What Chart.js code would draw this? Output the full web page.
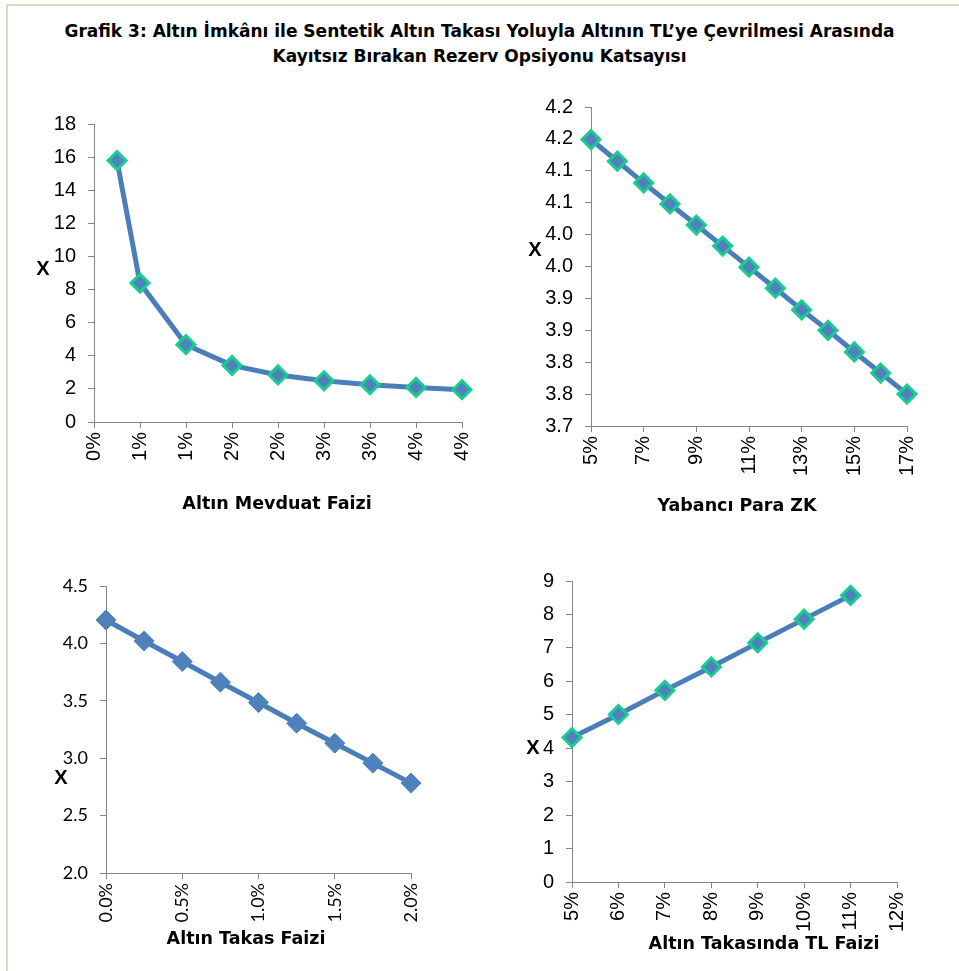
<!DOCTYPE html>
<html>
<head>
<meta charset="utf-8">
<script src="https://cdn.jsdelivr.net/npm/chart.js@4.4.0/dist/chart.umd.min.js"></script>
<style>
  body { margin: 0; background: #fff; }
  #page { position: relative; width: 959px; height: 971px; overflow: hidden; }
  #frame { position: absolute; left: 6px; top: 4px; width: 960px; height: 980px;
           border-left: 2px solid #ddd9c3; border-top: 2px solid #ddd9c3; }
  #title { position: absolute; left: 0; width: 959px; top: 19px; text-align: center;
           font: bold 17px "DejaVu Sans", sans-serif; line-height: 25px; color: #000; }
  .box { position: absolute; }
  .ylab { position: absolute; font: bold 20px "Liberation Sans", Arial, sans-serif;
          transform: translate(-50%, -50%); }
  .xlab { position: absolute; font: bold 17.5px "DejaVu Sans", sans-serif; white-space: nowrap;
          transform: translate(-50%, -50%); }
</style>
</head>
<body>
<div id="page">
  <div id="frame"></div>
  <div id="title">Grafik 3: Altın İmkânı ile Sentetik Altın Takası Yoluyla Altının TL’ye Çevrilmesi Arasında<br>Kayıtsız Bırakan Rezerv Opsiyonu Katsayısı</div>
  <div class="box" style="left:10px;top:98px;width:480px;height:413px"><canvas id="c1"></canvas></div>
  <div class="box" style="left:500px;top:81px;width:450px;height:432px"><canvas id="c2"></canvas></div>
  <div class="box" style="left:10px;top:560px;width:440px;height:386px"><canvas id="c3"></canvas></div>
  <div class="box" style="left:490px;top:555px;width:450px;height:396px"><canvas id="c4"></canvas></div>
  <div class="ylab" style="left:43px;top:268px">X</div>
  <div class="ylab" style="left:535px;top:249px">X</div>
  <div class="ylab" style="left:61px;top:777px">X</div>
  <div class="ylab" style="left:533px;top:747px">X</div>
  <div class="xlab" style="left:277px;top:503px">Altın Mevduat Faizi</div>
  <div class="xlab" style="left:737px;top:505px">Yabancı Para ZK</div>
  <div class="xlab" style="left:246px;top:938px">Altın Takas Faizi</div>
  <div class="xlab" style="left:764px;top:943px">Altın Takasında TL Faizi</div>
</div>
<script>
// Altın Mevduat Faizi (%)
const mevduatX = [0.25, 0.5, 1, 1.5, 2, 2.5, 3, 3.5, 4];
const mevduatY = [15.79, 8.39, 4.67, 3.42, 2.84, 2.49, 2.25, 2.09, 1.95];

// Yabancı Para ZK (%)
const zkX = [5, 6, 7, 8, 9, 10, 11, 12, 13, 14, 15, 16, 17];
const zkY = [4.149, 4.115, 4.081, 4.048, 4.015, 3.982, 3.949, 3.916, 3.882, 3.850, 3.816, 3.783, 3.750];

// Altın Takas Faizi (%)
const takasX = [0, 0.25, 0.5, 0.75, 1, 1.25, 1.5, 1.75, 2];
const takasY = [4.204, 4.021, 3.842, 3.662, 3.485, 3.305, 3.131, 2.957, 2.783];

// Altın Takasında TL Faizi (%)
const tlX = [5, 6, 7, 8, 9, 10, 11];
const tlY = [4.32, 5.01, 5.73, 6.43, 7.15, 7.86, 8.57];

const axisGray = '#868686';
const lineBlue = '#4a7ebb';
const fillBlue = '#4f81bd';
const edgeGreen = '#1ccb92';

function points(xs, ys) {
  return xs.map((x, i) => ({ x: x, y: ys[i] }));
}

function makeChart(id, cfg) {
  const tickFont = { family: cfg.tickFamily || '"Liberation Sans", Arial, sans-serif', size: cfg.tickSize || 20 };
  new Chart(document.getElementById(id), {
    type: 'scatter',
    data: {
      datasets: [{
        data: points(cfg.xs, cfg.ys),
        showLine: true,
        borderColor: lineBlue,
        borderWidth: 5,
        pointStyle: 'rectRot',
        pointRadius: cfg.radius,
        pointBackgroundColor: fillBlue,
        pointBorderColor: cfg.edge,
        pointBorderWidth: cfg.edgeWidth,
        clip: false
      }]
    },
    options: {
      responsive: true,
      maintainAspectRatio: false,
      animation: false,
      layout: { padding: cfg.pad },
      plugins: { legend: { display: false }, tooltip: { enabled: false } },
      scales: {
        x: {
          min: cfg.xMin, max: cfg.xMax,
          afterFit: s => { s.height = cfg.xH; },
          border: { color: axisGray },
          grid: { drawOnChartArea: false, color: axisGray, tickLength: 6 },
          ticks: {
            stepSize: cfg.xStep, color: '#000', font: tickFont, padding: 4,
            minRotation: 90, maxRotation: 90, autoSkip: false,
            callback: cfg.xFmt
          }
        },
        y: {
          min: cfg.yMin, max: cfg.yMax,
          afterFit: s => { s.width = cfg.yW; },
          border: { color: axisGray },
          grid: { drawOnChartArea: false, color: axisGray, tickLength: 6 },
          ticks: {
            stepSize: cfg.yStep, color: '#000', font: tickFont, padding: 12,
            autoSkip: false, callback: cfg.yFmt
          }
        }
      }
    }
  });
}

const oneDec = v => (Math.round(v * 10 + 1e-6) / 10).toFixed(1);

makeChart('c1', {
  xs: mevduatX, ys: mevduatY,
  xMin: 0, xMax: 4, xStep: 0.5, xFmt: v => Math.round(v + 1e-6) + '%',
  yMin: 0, yMax: 18, yStep: 2, yFmt: v => v,
  pad: { top: 26, right: 27, left: 0, bottom: 0 }, yW: 84, xH: 89,
  radius: 9, edge: edgeGreen, edgeWidth: 3
});

makeChart('c2', {
  xs: zkX, ys: zkY,
  xMin: 5, xMax: 17, xStep: 2, xFmt: v => v + '%',
  yMin: 3.7, yMax: 4.2, yStep: 0.05, yFmt: oneDec,
  pad: { top: 26, right: 43, left: 0, bottom: 0 }, yW: 91, xH: 87,
  radius: 9, edge: edgeGreen, edgeWidth: 3
});

makeChart('c3', {
  xs: takasX, ys: takasY,
  xMin: 0, xMax: 2, xStep: 0.5, xFmt: v => v.toFixed(1) + '%',
  yMin: 2, yMax: 4.5, yStep: 0.5, yFmt: v => v.toFixed(1),
  tickFamily: 'Lato, sans-serif', tickSize: 18,
  pad: { top: 26, right: 39, left: 0, bottom: 0 }, yW: 96, xH: 73,
  radius: 10, edge: fillBlue, edgeWidth: 1
});

makeChart('c4', {
  xs: tlX, ys: tlY,
  xMin: 5, xMax: 12, xStep: 1, xFmt: v => v + '%',
  yMin: 0, yMax: 9, yStep: 1, yFmt: v => v,
  pad: { top: 26, right: 43, left: 0, bottom: 0 }, yW: 82, xH: 69,
  radius: 9, edge: edgeGreen, edgeWidth: 3
});
</script>
</body>
</html>
